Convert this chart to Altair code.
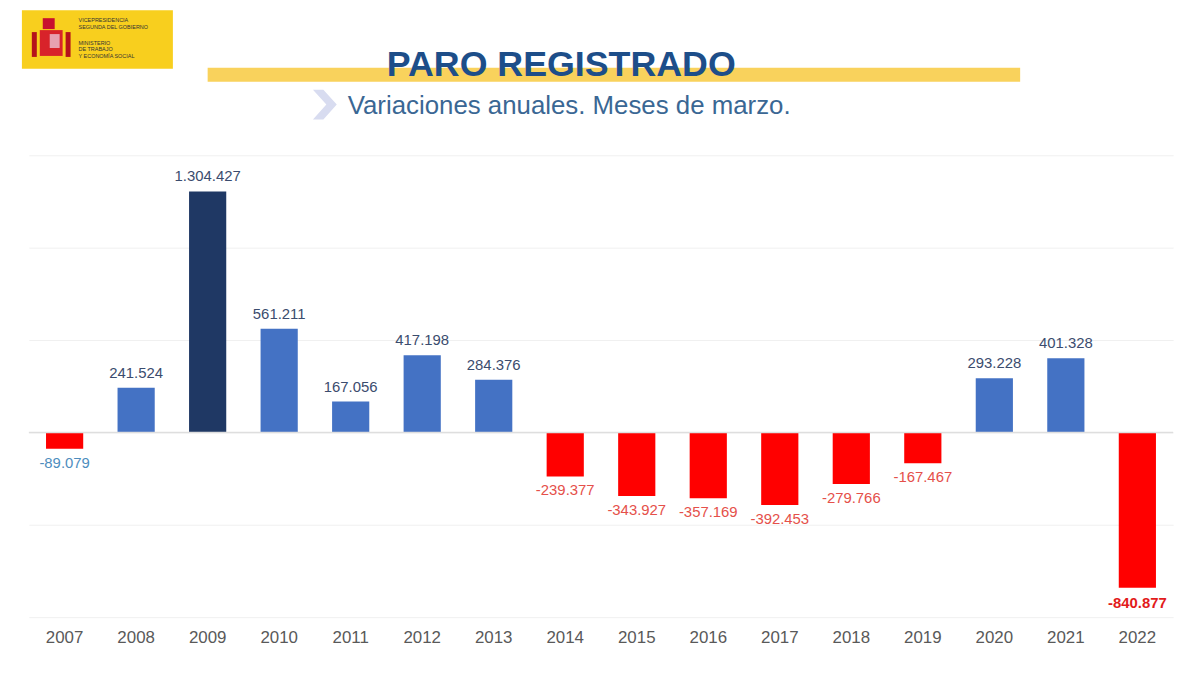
import altair as alt
import pandas as pd

years = ["2007", "2008", "2009", "2010", "2011", "2012", "2013", "2014",
         "2015", "2016", "2017", "2018", "2019", "2020", "2021", "2022"]
values = [-89079, 241524, 1304427, 561211, 167056, 417198, 284376, -239377,
          -343927, -357169, -392453, -279766, -167467, 293228, 401328, -840877]

title_text = "PARO REGISTRADO"
subtitle_text = "Variaciones anuales. Meses de marzo."
logo_lines = ["VICEPRESIDENCIA", "SEGUNDA DEL GOBIERNO", "MINISTERIO", "DE TRABAJO", "Y ECONOMÍA SOCIAL"]

vmax = max(values)
vmin = min(values)


def fmt(v):
    return f"{v:,}".replace(",", ".")


def bar_kind(v):
    if v == vmax:
        return "max"
    return "neg" if v < 0 else "pos"


def label_kind(i, v):
    if i == 0:
        return "first"
    if v == vmin:
        return "min"
    return "neg" if v < 0 else "pos"


df = pd.DataFrame({
    "year": years,
    "value": values,
    "label": [fmt(v) for v in values],
    "kind": [bar_kind(v) for v in values],
    "lkind": [label_kind(i, v) for i, v in enumerate(values)],
})

W, H = 1152, 465
FONT = "Liberation Sans"

xenc = alt.X("year:N", sort=years,
             scale=alt.Scale(paddingInner=0.48, paddingOuter=0.24),
             axis=alt.Axis(title=None, labelAngle=0, domain=False, ticks=False, tickSize=0,
                           labelPadding=13, labelFontSize=17, labelColor="#595959",
                           labelFont=FONT, grid=False))
yscale = alt.Scale(domain=[-1000000, 1500000], nice=False, zero=True)
yenc = alt.Y("value:Q", scale=yscale,
             axis=alt.Axis(title=None, labels=False, ticks=False, domain=False, grid=True,
                           values=[-1000000, -500000, 0, 500000, 1000000, 1500000],
                           gridColor="#F0F0F0", gridWidth=1))

base = alt.Chart(df)

bars = base.mark_bar().encode(
    x=xenc, y=yenc,
    color=alt.Color("kind:N", scale=alt.Scale(domain=["pos", "max", "neg"],
                                              range=["#4472C4", "#1F3864", "#FF0000"]),
                    legend=None),
)

zero = alt.Chart(pd.DataFrame({"z": [0]})).mark_rule(color="#DEDEDE", strokeWidth=1.5).encode(
    y=alt.Y("z:Q", scale=yscale), x=alt.value(0), x2=alt.value(W))

lab_colors = alt.Color("lkind:N", scale=alt.Scale(domain=["pos", "neg", "first", "min"],
                                                  range=["#3B4C6E", "#E5504A", "#4E8DBE", "#E21B1B"]),
                       legend=None)

pos_labels = base.transform_filter("datum.value >= 0").mark_text(
    font=FONT, fontSize=15, baseline="middle", dy=-15).encode(
    x=xenc, y=yenc, text="label:N", color=lab_colors)

neg_labels = base.transform_filter(f"datum.value < 0 && datum.value != {vmin}").mark_text(
    font=FONT, fontSize=15, baseline="middle", dy=14).encode(
    x=xenc, y=yenc, text="label:N", color=lab_colors)

min_label = base.transform_filter(f"datum.value == {vmin}").mark_text(
    font=FONT, fontSize=15, fontWeight="bold", baseline="middle", dy=15).encode(
    x=xenc, y=yenc, text="label:N", color=lab_colors)

one = pd.DataFrame({"a": [0]})
OX, OY = 29, 154  # page position of plot origin


def px(x):
    return x - OX


def py(y):
    return y - OY


def rect(x1, y1, x2, y2, color):
    return alt.Chart(one).mark_rect(color=color).encode(
        x=alt.value(px(x1)), x2=alt.value(px(x2)), y=alt.value(py(y1)), y2=alt.value(py(y2)))


yellow_band = rect(209, 66, 1027, 80, "#F9D25C")
title = alt.Chart(one).mark_text(text=title_text, font=FONT, fontSize=36, fontWeight="bold",
                                 color="#1D4E89", align="center", baseline="alphabetic").encode(
    x=alt.value(px(565)), y=alt.value(py(74)))

chevron = alt.Chart(one).mark_point(
    shape="M-0.8,-1 L0.1,0 L-0.8,1 L-0.1,1 L0.8,0 L-0.1,-1 Z",
    size=900, filled=True, color="#D8DCF0", opacity=1, strokeWidth=0).encode(
    x=alt.value(px(327)), y=alt.value(py(103)))

subtitle = alt.Chart(one).mark_text(text=subtitle_text, font=FONT, fontSize=26,
                                    color="#3A6794", align="left", baseline="alphabetic").encode(
    x=alt.value(px(350)), y=alt.value(py(112)))

# logo
logo_bg = rect(22, 8, 174, 67, "#F8CF1E")
crown = rect(43, 16, 55, 27, "#C8102E")
shield = rect(40, 28, 63, 54, "#D8232A")
shield2 = rect(50, 32, 60, 46, "#E7A1B0")
pillar1 = rect(32, 30, 37, 55, "#B5121B")
pillar2 = rect(66, 30, 71, 55, "#B5121B")

logo_y = [18, 25, 41, 47, 54]
logo_df = pd.DataFrame({"t": logo_lines, "yy": [py(v) for v in logo_y]})
logo_text = alt.Chart(logo_df).mark_text(font=FONT, fontSize=5.5, color="#333333",
                                         align="left", baseline="middle").encode(
    x=alt.value(px(79)), y=alt.Y("yy:Q", scale=None), text="t:N")

chart = alt.layer(
    bars, zero, pos_labels, neg_labels, min_label,
    yellow_band, title, chevron, subtitle,
    logo_bg, crown, shield, shield2, pillar1, pillar2, logo_text,
).resolve_scale(color="independent").properties(
    width=W, height=H,
    background="white",
    autosize=alt.AutoSizeParams(type="none"),
    padding={"left": 21, "top": 146, "right": 18, "bottom": 55},
).configure_view(strokeWidth=0, stroke="transparent")

chart.save("out.html", embed_options={"renderer": "svg", "actions": False})
